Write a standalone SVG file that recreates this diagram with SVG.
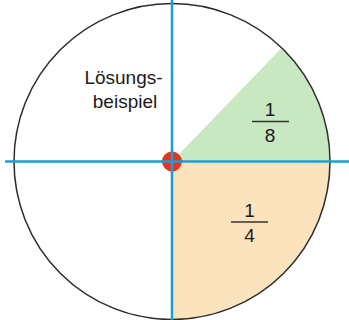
<svg xmlns="http://www.w3.org/2000/svg" width="349" height="320" viewBox="0 0 349 320">
<style>
.lbl{font-family:"Liberation Sans","Open Sans",Arial,sans-serif;font-size:19px;fill:#1a1a1a;text-anchor:middle}
.axis{stroke:#1a9fd0;stroke-width:2.5;fill:none}
.frac{stroke:#333;stroke-width:1.5}
</style>
<rect width="349" height="320" fill="#ffffff"/>
<g id="sector-eighth">
<path d="M172,161.5 L330,161.5 A158,158 0 0 0 281.8,47.8 Z" fill="#c8e8c2"/>
</g>
<g id="sector-quarter">
<path d="M172,161.5 L330,161.5 A158,158 0 0 1 172,319.5 Z" fill="#fbe3bd"/>
</g>
<g id="circle">
<circle cx="172" cy="161.5" r="158" fill="none" stroke="#2b2b2b" stroke-width="1.5"/>
</g>
<g id="connectors">
<line class="axis" x1="172" y1="0" x2="172" y2="320"/>
<line class="axis" x1="5" y1="161.5" x2="349" y2="161.5"/>
</g>
<g id="center">
<circle cx="172" cy="161.5" r="10" fill="#e8341e"/>
<line class="axis" x1="172" y1="151" x2="172" y2="172" stroke-width="2"/>
<line class="axis" x1="161" y1="161.5" x2="183" y2="161.5" stroke-width="2"/>
</g>
<g id="label-loesung">
<text class="lbl" x="123.5" y="84">Lösungs-</text>
<text class="lbl" x="125" y="108">beispiel</text>
</g>
<g id="frac-eighth">
<text class="lbl" x="270" y="116">1</text>
<line class="frac" x1="252" y1="121.5" x2="289" y2="121.5"/>
<text class="lbl" x="270" y="142">8</text>
</g>
<g id="frac-quarter">
<text class="lbl" x="249.5" y="217">1</text>
<line class="frac" x1="231" y1="222" x2="268" y2="222"/>
<text class="lbl" x="249.5" y="242">4</text>
</g>
</svg>
